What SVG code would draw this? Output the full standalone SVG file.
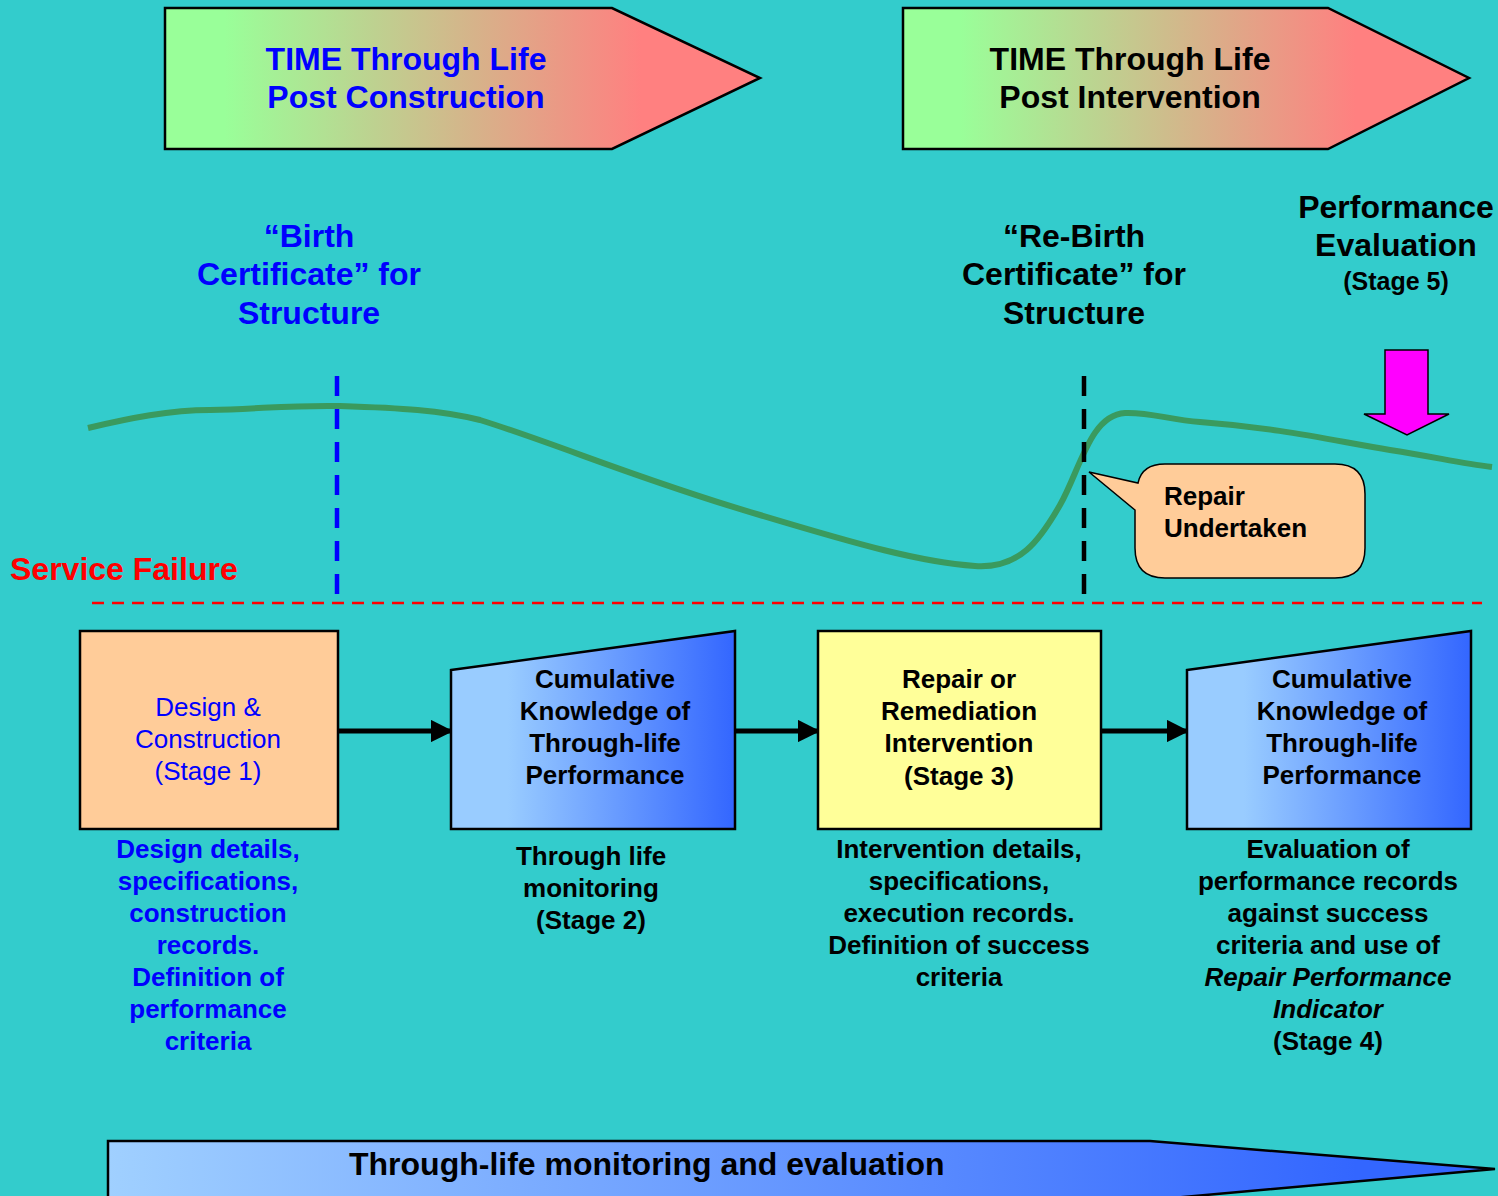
<svg xmlns="http://www.w3.org/2000/svg" width="1498" height="1196" viewBox="0 0 1498 1196">
<defs>
<linearGradient id="gTime" x1="0" y1="0" x2="1" y2="0">
<stop offset="0.1" stop-color="#99FF99"/>
<stop offset="0.8" stop-color="#FF8080"/>
</linearGradient>
<linearGradient id="gBlue" x1="0" y1="0" x2="1" y2="0">
<stop offset="0.2" stop-color="#99CCFF"/>
<stop offset="1" stop-color="#3366FF"/>
</linearGradient>
<linearGradient id="gBottom" x1="0" y1="0" x2="1" y2="0">
<stop offset="0" stop-color="#A0D0FF"/>
<stop offset="0.9" stop-color="#3366FF"/>
</linearGradient>
<marker id="ah" viewBox="0 0 10 10" refX="9" refY="5" markerWidth="4.5" markerHeight="4.5" orient="auto" markerUnits="strokeWidth">
<path d="M0,0 L10,5 L0,10 z" fill="#000"/>
</marker>
<style>
text{font-family:"Liberation Sans",Arial,sans-serif;}
.b{font-weight:bold;}
.c{text-anchor:middle;}
.s26{font-size:26px;}
.s32{font-size:32px;}
.shape{stroke:#000;stroke-width:2.5;}
.conn{stroke:#000;stroke-width:5;fill:none;marker-end:url(#ah);}
</style>
</defs>
<rect width="1498" height="1196" fill="#33CCCC"/>

<g id="time-post-construction">
<polygon class="shape" points="165,8 612,8 760,78 612,149 165,149" fill="url(#gTime)"/>
<text class="b c s32" x="406" y="70" fill="#0000FF">TIME Through Life</text>
<text class="b c s32" x="406" y="108" fill="#0000FF">Post Construction</text>
</g>

<g id="time-post-intervention">
<polygon class="shape" points="903,8 1328,8 1469,78 1328,149 903,149" fill="url(#gTime)"/>
<text class="b c s32" x="1130" y="70" fill="#000">TIME Through Life</text>
<text class="b c s32" x="1130" y="108" fill="#000">Post Intervention</text>
</g>

<g id="birth-certificate">
<text class="b c s32" x="309" y="247" fill="#0000FF">“Birth</text>
<text class="b c s32" x="309" y="285" fill="#0000FF">Certificate” for</text>
<text class="b c s32" x="309" y="324" fill="#0000FF">Structure</text>
</g>

<g id="rebirth-certificate">
<text class="b c s32" x="1074" y="247" fill="#000">“Re-Birth</text>
<text class="b c s32" x="1074" y="285" fill="#000">Certificate” for</text>
<text class="b c s32" x="1074" y="324" fill="#000">Structure</text>
</g>

<g id="performance-evaluation">
<text class="b c s32" x="1396" y="218" fill="#000">Performance</text>
<text class="b c s32" x="1396" y="256" fill="#000">Evaluation</text>
<text class="b c" x="1396" y="290" font-size="25" fill="#000">(Stage 5)</text>
<polygon points="1385,350 1428,350 1428,414 1449,414 1407,435 1364,414 1385,414" fill="#FF00FF" stroke="#000" stroke-width="1.5"/>
</g>

<g id="service-failure">
<text class="b s32" x="10" y="580" fill="#FF0000">Service Failure</text>
<line x1="92" y1="603" x2="1482" y2="603" stroke="#FF0000" stroke-width="2.5" stroke-dasharray="12,8"/>
</g>

<g id="performance-curve">
<path d="M88,428 C130,418 170,410 210,410 C260,409 290,405 340,406 C400,408 440,410 480,420 C560,445 640,480 760,515 C860,545 920,562 975,566 C1020,569 1040,540 1060,505 C1080,470 1090,415 1125,413 C1150,412 1170,420 1200,422 C1280,428 1330,440 1390,450 C1440,458 1460,463 1492,467" fill="none" stroke="#3A9A5E" stroke-width="6"/>
</g>

<g id="markers">
<line x1="337" y1="376" x2="337" y2="603" stroke="#0000FF" stroke-width="4.5" stroke-dasharray="20,13"/>
<line x1="1084" y1="376" x2="1084" y2="603" stroke="#000" stroke-width="4.5" stroke-dasharray="20,13"/>
</g>

<g id="repair-undertaken">
<path d="M1165,464 L1335,464 Q1365,464 1365,494 L1365,548 Q1365,578 1335,578 L1165,578 Q1135,578 1135,548 L1135,510 L1089,472 L1138,483 Q1142,464 1165,464 Z" fill="#FFCC99" stroke="#000" stroke-width="1.5"/>
<text class="b s26" x="1164" y="505" fill="#000">Repair</text>
<text class="b s26" x="1164" y="537" fill="#000">Undertaken</text>
</g>

<g id="connectors">
<line class="conn" x1="338" y1="731" x2="451" y2="731"/>
<line class="conn" x1="735" y1="731" x2="818" y2="731"/>
<line class="conn" x1="1101" y1="731" x2="1187" y2="731"/>
</g>

<g id="stage1">
<rect class="shape" x="80" y="631" width="258" height="198" fill="#FFCC99"/>
<text class="c s26" x="208" y="716" fill="#0000FF">Design &amp;</text>
<text class="c s26" x="208" y="748" fill="#0000FF">Construction</text>
<text class="c s26" x="208" y="780" fill="#0000FF">(Stage 1)</text>
<g class="b c s26" fill="#0000FF">
<text x="208" y="858">Design details,</text>
<text x="208" y="890">specifications,</text>
<text x="208" y="922">construction</text>
<text x="208" y="954">records.</text>
<text x="208" y="986">Definition of</text>
<text x="208" y="1018">performance</text>
<text x="208" y="1050">criteria</text>
</g>
</g>

<g id="stage2">
<polygon class="shape" points="451,670 735,631 735,829 451,829" fill="url(#gBlue)"/>
<g class="b c s26" fill="#000">
<text x="605" y="688">Cumulative</text>
<text x="605" y="720">Knowledge of</text>
<text x="605" y="752">Through-life</text>
<text x="605" y="784">Performance</text>
<text x="591" y="865">Through life</text>
<text x="591" y="897">monitoring</text>
<text x="591" y="929">(Stage 2)</text>
</g>
</g>

<g id="stage3">
<rect class="shape" x="818" y="631" width="283" height="198" fill="#FFFF99"/>
<g class="b c s26" fill="#000">
<text x="959" y="688">Repair or</text>
<text x="959" y="720">Remediation</text>
<text x="959" y="752">Intervention</text>
<text x="959" y="785">(Stage 3)</text>
<text x="959" y="858">Intervention details,</text>
<text x="959" y="890">specifications,</text>
<text x="959" y="922">execution records.</text>
<text x="959" y="954">Definition of success</text>
<text x="959" y="986">criteria</text>
</g>
</g>

<g id="stage4">
<polygon class="shape" points="1187,670 1471,631 1471,829 1187,829" fill="url(#gBlue)"/>
<g class="b c s26" fill="#000">
<text x="1342" y="688">Cumulative</text>
<text x="1342" y="720">Knowledge of</text>
<text x="1342" y="752">Through-life</text>
<text x="1342" y="784">Performance</text>
<text x="1328" y="858">Evaluation of</text>
<text x="1328" y="890">performance records</text>
<text x="1328" y="922">against success</text>
<text x="1328" y="954">criteria and use of</text>
<text x="1328" y="986" font-style="italic">Repair Performance</text>
<text x="1328" y="1018" font-style="italic">Indicator</text>
<text x="1328" y="1050">(Stage 4)</text>
</g>
</g>

<g id="monitoring-evaluation">
<polygon class="shape" points="108,1200 108,1141 1150,1141 1495,1169 1150,1200" fill="url(#gBottom)"/>
<text class="b" x="349" y="1175" font-size="32" fill="#000">Through-life monitoring and evaluation</text>
</g>
</svg>
